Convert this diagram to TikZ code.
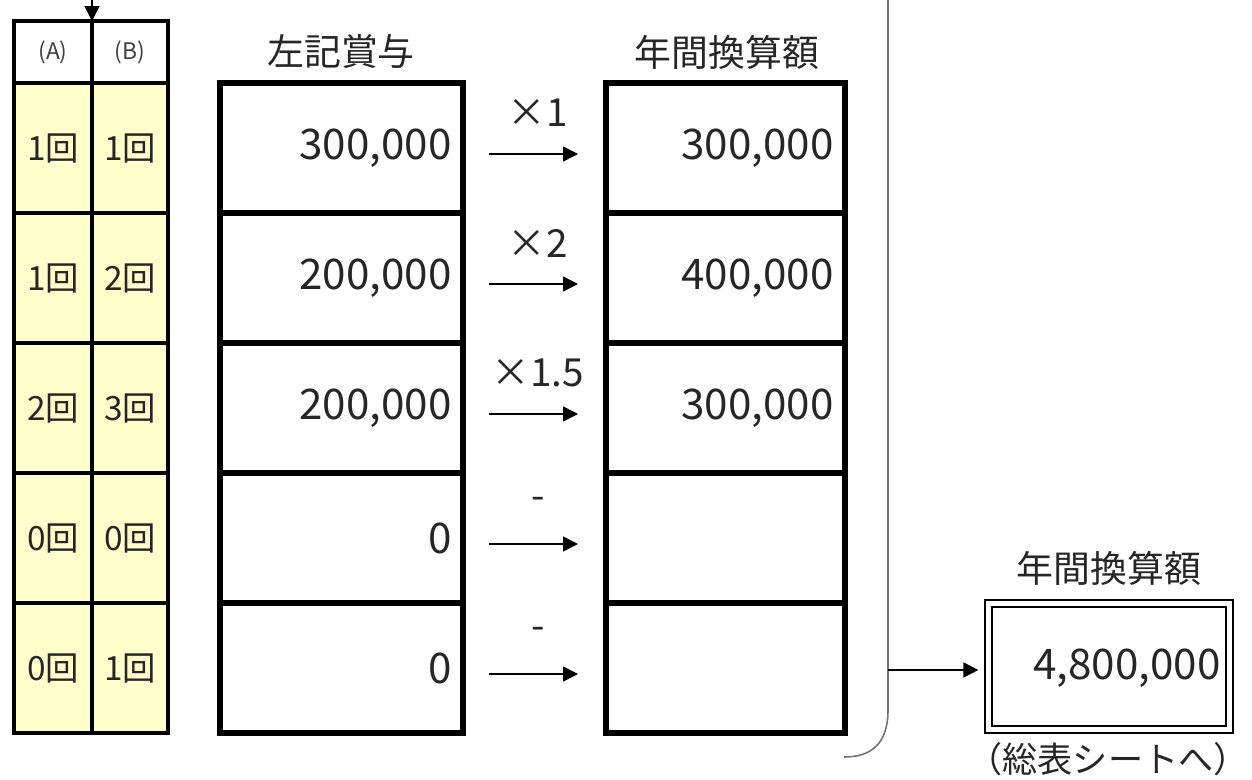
\documentclass[tikz,border=0pt]{standalone}
\usepackage{fontspec}
\setmainfont{Noto Sans CJK JP}
\usetikzlibrary{arrows.meta}
\definecolor{kaisu}{HTML}{FFFFCC}
\tikzset{
  thin grid/.style={line width=2pt},
  thick grid/.style={line width=3pt},
  flow/.style={line width=0.85pt,-{Triangle[length=8.5pt,width=8.5pt]}},
  num/.style={anchor=east,inner sep=0pt,text=black!85,font=\fontsize{24}{28}\selectfont},
  cnt/.style={inner sep=0pt,text=black!85,font=\fontsize{19}{22}\selectfont},
  head/.style={inner sep=0pt,text=black!85,font=\fontsize{21}{24}\selectfont},
  total box/.style={draw,line width=1.5pt,double,double distance=2.4pt,minimum width=4.82cm,minimum height=2.52cm,inner sep=0pt},
}
\begin{document}
\begin{tikzpicture}[x=0.02cm,y=-0.02cm]
\useasboundingbox (0,0) rectangle (1252,780);
% left table (A)/(B)
\fill[kaisu](14,83)rectangle(168,733);
\draw[thin grid](14,21)rectangle(168,733);
\draw[thin grid](92,21)--(92,733);
\foreach \y in {83,213,343,473,603} \draw[thin grid](14,\y)--(168,\y);
\node[inner sep=0pt,text=black!75,font=\fontsize{13}{15}\selectfont] (hA) at (53,52) {(A)};
\node[inner sep=0pt,text=black!75,font=\fontsize{13}{15}\selectfont] (hB) at (130,52) {(B)};
\coordinate (src) at (92,0);
\coordinate (dst) at (92,21);
\draw[flow] (src) -- (dst);
% middle and right columns
\node[head] (hL) at (341,52) {左記賞与};
\node[head] (hR) at (727,52) {年間換算額};
\draw[thick grid](220,83)rectangle(463,733);
\draw[thick grid](606,83)rectangle(845,733);
\foreach \y in {213,343,473,603} {
  \draw[thick grid](220,\y)--(463,\y);
  \draw[thick grid](606,\y)--(845,\y);
}
\foreach \i/\a/\b/\v/\k/\w in {1/1/1/300{,}000/×1/300{,}000,2/1/2/200{,}000/×2/400{,}000,3/2/3/200{,}000/×1.5/300{,}000,4/0/0/0/-/{},5/0/1/0/-/{}} {
  \pgfmathsetmacro\c{148+130*(\i-1)}
  \node[cnt] (a\i) at (53,\c) {\a 回};
  \node[cnt] (b\i) at (130,\c) {\b 回};
  \node[num] (m\i) at (452,\c) {\v};
  \node[num] (r\i) at (834,\c) {\w};
  \coordinate (f\i) at (489,\c+6);
  \coordinate (g\i) at (578,\c+6);
  \draw[flow] (f\i) -- (g\i);
  \node[head,font=\fontsize{22}{24}\selectfont] (k\i) at (538,\c-35) {\k};
}
% brace and total
\draw[black!55,line width=0.9pt](888,0)--(888,710) .. controls (888,745) and (870,757) .. (844,757);
\node[head] (hT) at (1109,568) {年間換算額};
\node[total box] (total) at (1109,666.5) {};
\node[num] (sum) at (1221,668) {4,800,000};
\node[head,font=\fontsize{20}{22}\selectfont] (note) at (1108,759) {（総表シートへ）};
\coordinate (pick) at (888,670);
\draw[flow,shorten >=5pt] (pick) -- (pick-|total.west);
\end{tikzpicture}
\end{document}
